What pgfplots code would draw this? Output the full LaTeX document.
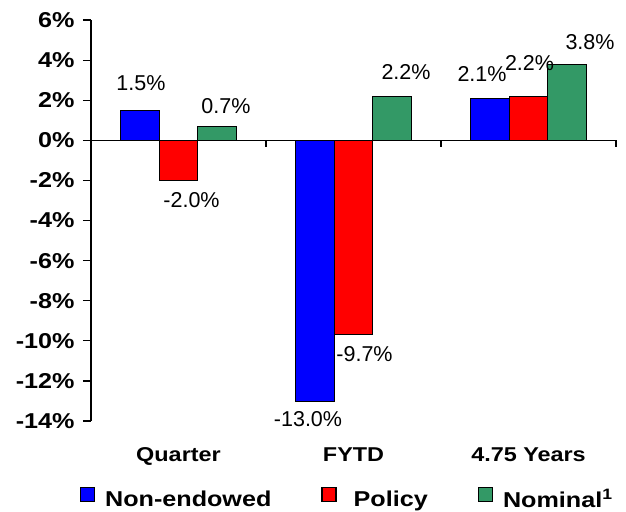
\documentclass[border=0pt]{standalone}
\usepackage{fontspec}
\setmainfont{Liberation Sans}
\newfontfamily\bfs{Liberation Sans}[FakeStretch=1.17]
\usepackage{pgfplots}
\pgfplotsset{compat=1.18}
\usepackage{pgfplotstable}
\definecolor{nblue}{RGB}{0,0,255}
\definecolor{pred}{RGB}{255,0,0}
\definecolor{ngreen}{RGB}{51,153,102}

\pgfplotstableread{
x y dx dy
0 1.5 1 27
1 -13.0 -7 -18
2 2.1 -8 24
}\nonendowed
\pgfplotstableread{
x y dx dy
0 -2.0 13 -20
1 -9.7 11 -19
2 2.2 1 33
}\policy
\pgfplotstableread{
x y dx dy
0 0.7 9 20
1 2.2 14 24
2 3.8 23 22
}\nominal

\begin{document}
\begin{tikzpicture}
\useasboundingbox (0,0) rectangle (626bp,-512bp);
\begin{axis}[
  at={(91bp,-20bp)}, anchor=north west,
  scale only axis, width=525bp, height=401bp,
  xmin=-0.5, xmax=2.5, ymin=-14, ymax=6,
  clip=false,
  ybar=0pt, bar width=38.5bp,
  axis y line*=left, axis x line*=bottom,
  x axis line style={draw=none},
  y axis line style={line width=1.2bp},
  ytick={-14,-12,...,6},
  yticklabel={\pgfmathprintnumber{\tick}\%},
  /pgf/number format/assume math mode=true,
  tick align=outside,
  major tick length=8bp,
  ytick style={line width=1.2bp, black},
  yticklabel style={font=\bfs\bfseries\fontsize{21.5bp}{24bp}\selectfont, anchor=east, xshift=-5bp},
  xtick={0,1,2}, xticklabels={Quarter,FYTD,4.75 Years},
  xtick style={draw=none},
  xticklabel style={font=\bfs\bfseries\fontsize{20bp}{24bp}\selectfont, anchor=base, yshift=-32bp},
  nodes near coords={\pgfmathprintnumber[fixed,fixed zerofill,precision=1]{\pgfplotspointmeta}\%},
  point meta=y,
  visualization depends on={\thisrow{dx} \as \dx},
  visualization depends on={\thisrow{dy} \as \dy},
  every node near coord/.append style={anchor=center, xshift=\dx bp, yshift=\dy bp, font=\fontsize{21.5bp}{24bp}\selectfont, text=black},
  legend style={draw=none, fill=none, at={(0.488,-0.194)}, anchor=center, legend columns=3,
    inner sep=0.5bp,
    font=\bfs\bfseries\fontsize{21.5bp}{24bp}\selectfont,
    /tikz/every even column/.append style={column sep=48bp},
    /tikz/every odd column/.append style={column sep=8bp}},
  legend image code/.code={\draw[#1, line width=1.3bp] (0bp,-2bp) rectangle (14bp,12bp);},
]
\addplot[fill=nblue, draw=black, line width=0.9bp] table[x=x,y=y] {\nonendowed};
\addplot[fill=pred, draw=black, line width=0.9bp] table[x=x,y=y] {\policy};
\addplot[fill=ngreen, draw=black, line width=0.9bp] table[x=x,y=y] {\nominal};
\legend{Non-endowed,\ Policy,Nominal\textsuperscript{1}}
\draw[line width=1.2bp, black] (axis cs:-0.5,0) -- (axis cs:2.5,0);
\draw[line width=1.2bp, black] (axis cs:0.5,0) -- ++(0pt,-7bp);
\draw[line width=1.2bp, black] (axis cs:1.5,0) -- ++(0pt,-7bp);
\draw[line width=1.2bp, black] (axis cs:2.5,0) -- ++(0pt,-7bp);
\end{axis}
\end{tikzpicture}
\end{document}
